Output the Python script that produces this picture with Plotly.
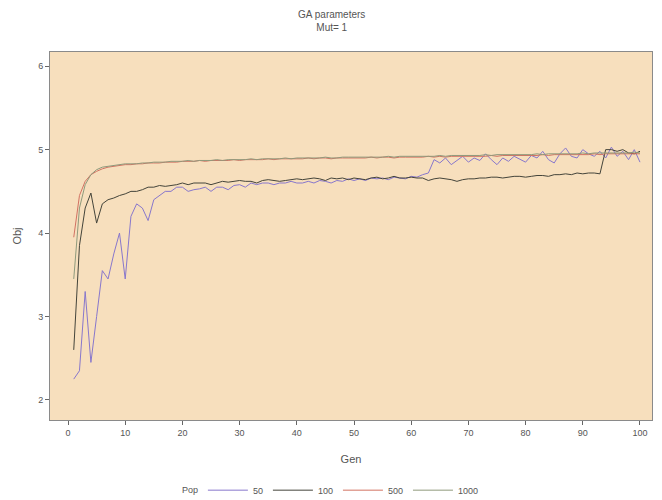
import plotly.graph_objects as go

gen = list(range(1, 101))

pop50 = [2.25, 2.35, 3.30, 2.45, 3.00, 3.55, 3.45, 3.75, 4.00, 3.45,
         4.20, 4.35, 4.30, 4.15, 4.40, 4.45, 4.50, 4.50, 4.55, 4.55,
         4.50, 4.52, 4.53, 4.55, 4.50, 4.55, 4.55, 4.52, 4.57, 4.58,
         4.55, 4.60, 4.58, 4.60, 4.60, 4.58, 4.60, 4.60, 4.62, 4.60,
         4.60, 4.62, 4.60, 4.63, 4.62, 4.60, 4.63, 4.62, 4.65, 4.63,
         4.65, 4.63, 4.66, 4.65, 4.66, 4.64, 4.67, 4.66, 4.65, 4.68,
         4.67, 4.70, 4.72, 4.88, 4.84, 4.90, 4.82, 4.87, 4.92, 4.85,
         4.90, 4.87, 4.95, 4.88, 4.82, 4.90, 4.86, 4.92, 4.88, 4.85,
         4.93, 4.90, 4.98, 4.88, 4.84, 4.95, 5.02, 4.92, 4.90, 5.00,
         4.95, 4.92, 4.98, 4.90, 5.03, 4.92, 4.98, 4.88, 5.00, 4.85]

pop100 = [2.60, 3.85, 4.30, 4.48, 4.12, 4.35, 4.40, 4.42, 4.45, 4.47,
          4.50, 4.50, 4.52, 4.55, 4.55, 4.57, 4.56, 4.57, 4.58, 4.60,
          4.58, 4.60, 4.60, 4.60, 4.58, 4.60, 4.62, 4.61, 4.62, 4.63,
          4.62, 4.62, 4.60, 4.63, 4.64, 4.63, 4.62, 4.63, 4.64, 4.65,
          4.64, 4.65, 4.66, 4.65, 4.63, 4.66, 4.65, 4.66, 4.64, 4.66,
          4.65, 4.64, 4.66, 4.67, 4.65, 4.66, 4.68, 4.66, 4.66, 4.67,
          4.66, 4.66, 4.63, 4.65, 4.66, 4.65, 4.64, 4.62, 4.64, 4.65,
          4.65, 4.66, 4.66, 4.67, 4.67, 4.66, 4.67, 4.68, 4.68, 4.67,
          4.68, 4.69, 4.69, 4.68, 4.70, 4.70, 4.71, 4.70, 4.72, 4.71,
          4.72, 4.72, 4.71, 5.00, 5.00, 4.98, 5.00, 4.96, 4.95, 4.98]

pop500 = [3.95, 4.45, 4.62, 4.70, 4.74, 4.77, 4.79, 4.80, 4.81, 4.82,
          4.82, 4.83, 4.83, 4.84, 4.84, 4.84, 4.85, 4.85, 4.85, 4.86,
          4.86, 4.86, 4.87, 4.86, 4.87, 4.87, 4.87, 4.87, 4.88, 4.87,
          4.88, 4.88, 4.88, 4.88, 4.89, 4.88, 4.89, 4.89, 4.89, 4.89,
          4.89, 4.90, 4.89, 4.90, 4.90, 4.89, 4.90, 4.90, 4.90, 4.90,
          4.90, 4.90, 4.91, 4.90, 4.91, 4.91, 4.90, 4.91, 4.91, 4.91,
          4.91, 4.91, 4.92, 4.91, 4.92, 4.91, 4.92, 4.92, 4.92, 4.92,
          4.92, 4.92, 4.92, 4.93, 4.92, 4.93, 4.93, 4.93, 4.93, 4.93,
          4.93, 4.93, 4.94, 4.93, 4.94, 4.94, 4.94, 4.94, 4.94, 4.94,
          4.94, 4.95, 4.94, 4.95, 4.95, 4.95, 4.95, 4.95, 4.95, 4.95]

pop1000 = [3.45, 4.30, 4.58, 4.70, 4.76, 4.79, 4.80, 4.81, 4.82, 4.83,
           4.83, 4.83, 4.84, 4.84, 4.85, 4.85, 4.85, 4.86, 4.86, 4.86,
           4.87, 4.86, 4.87, 4.87, 4.87, 4.88, 4.87, 4.88, 4.88, 4.88,
           4.88, 4.89, 4.88, 4.89, 4.89, 4.89, 4.89, 4.90, 4.89, 4.90,
           4.90, 4.90, 4.90, 4.90, 4.91, 4.90, 4.90, 4.91, 4.91, 4.91,
           4.91, 4.91, 4.91, 4.91, 4.91, 4.92, 4.91, 4.92, 4.92, 4.92,
           4.92, 4.92, 4.92, 4.92, 4.93, 4.92, 4.93, 4.93, 4.93, 4.93,
           4.93, 4.93, 4.94, 4.93, 4.94, 4.94, 4.94, 4.94, 4.94, 4.94,
           4.94, 4.95, 4.94, 4.95, 4.95, 4.95, 4.95, 4.95, 4.95, 4.96,
           4.95, 4.96, 4.96, 4.96, 4.96, 4.96, 4.96, 4.96, 4.97, 4.96]

series_names = ["50", "100", "500", "1000"]
series_values = [pop50, pop100, pop500, pop1000]
series_colors = ["#8877cc", "#44443a", "#d27262", "#8f9a7c"]
legend_title = "Pop"

fig = go.Figure()
for name, vals, col in zip(series_names, series_values, series_colors):
    fig.add_trace(go.Scatter(x=gen, y=vals, mode="lines", name=name,
                             line=dict(color=col, width=1)))

font_col = "#555555"
fig.add_annotation(text=legend_title, xref="paper", yref="paper",
                   x=0.2326, y=-0.190, showarrow=False,
                   xanchor="center", yanchor="middle",
                   font=dict(size=9, color=font_col))

fig.update_layout(
    width=654, height=492,
    margin=dict(l=42, r=10, t=44, b=80),
    paper_bgcolor="white",
    plot_bgcolor="#f7dfbd",
    font=dict(family="Liberation Sans, Arial, sans-serif", size=9, color=font_col),
    title=dict(text="GA parameters<br>Mut= 1", x=0.495, xref="container",
               y=0.98, yanchor="top", font=dict(size=10, color=font_col),
               automargin=False),
    showlegend=True,
    legend=dict(orientation="h", x=0.298, xref="container", xanchor="left",
                y=0.02, yref="container", yanchor="middle", itemwidth=40,
                font=dict(size=9, color=font_col),
                bgcolor="rgba(0,0,0,0)"),
    xaxis=dict(range=[-3.15, 102.1], tickvals=[0, 10, 20, 30, 40, 50, 60, 70, 80, 90, 100],
               showgrid=False, zeroline=False, showline=True, linecolor="#8a8a8a", mirror=True,
               ticks="outside", ticklen=4, tickcolor="#666666", automargin=False,
               title=dict(text="Gen", standoff=18)),
    yaxis=dict(range=[1.76, 6.17], tickvals=[2, 3, 4, 5, 6],
               showgrid=False, zeroline=False, showline=True, linecolor="#8a8a8a", mirror=True,
               ticks="outside", ticklen=4, tickcolor="#666666", automargin=False,
               title=dict(text="Obj", standoff=14)),
)

fig.write_html("out.html")
